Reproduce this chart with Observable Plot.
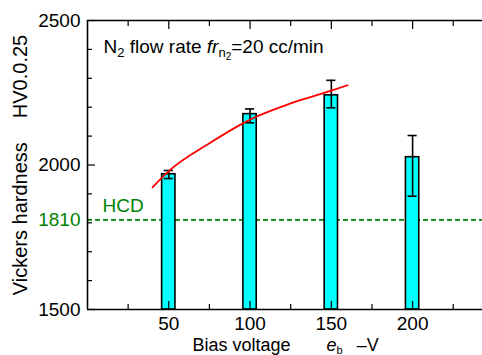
<!DOCTYPE html>
<html><head><meta charset="utf-8">
<script src="https://cdn.jsdelivr.net/npm/d3@7"></script>
<script src="https://cdn.jsdelivr.net/npm/@observablehq/plot@0.6"></script>
<style>
html,body{margin:0;padding:0;background:#fff;}
</style>
</head><body><div id="chart"></div>
<script>
// ---- data ----
const bias = [50, 100, 150, 200];
const hardness = [1968, 2176, 2241, 2027];
const errLow = [1953, 2146, 2198, 1892];
const errHigh = [1981, 2194, 2293, 2102];
const fitBias = [40, 50, 75, 100, 125, 150, 160];
const fitHardness = [1923, 1979, 2075, 2157, 2213, 2257, 2276];
const hcdValue = [1810];
const yDomain = [1500, 2500];
const xDomain = [0, 243];
const yTickLabels = [1500, 2000, 2500];
const yMinorTicks = [1600, 1700, 1800, 1900, 2100, 2200, 2300, 2400];
const xTickLabels = [50, 100, 150, 200];
const xMinorTicks = [25, 75, 125, 175, 225];
const noteText = "N2 flow rate frn2=20 cc/min";
const xTitle = "Bias voltage eb –V";
const yTitle = "Vickers hardness HV0.0.25";
const hcdLabel = "HCD";

const bars = bias.map((b, i) => ({bias: b, hv: hardness[i], lo: errLow[i], hi: errHigh[i]}));
const fit = fitBias.map((b, i) => ({bias: b, hv: fitHardness[i]}));

const barHalf = 4.1, capHalf = 2.8;
const font = '"Liberation Sans", Arial, sans-serif';
const green = "#008000";
const fmt = d => String(d);

const plot = Plot.plot({
  width: 482, height: 355,
  marginLeft: 87, marginRight: 0, marginTop: 20, marginBottom: 46,
  style: {fontFamily: font, fontSize: "19px", background: "#fff", color: "#000", overflow: "hidden"},
  x: {domain: xDomain, label: null},
  y: {domain: yDomain, label: null},
  marks: [
    Plot.ruleY(hcdValue, {stroke: green, strokeWidth: 1.6, strokeDasharray: "5,3"}),
    Plot.rectY(bars, {x1: d => d.bias - barHalf, x2: d => d.bias + barHalf, y1: () => yDomain[0], y2: "hv", fill: "#00ffff", stroke: "#000", strokeWidth: 1.6}),
    Plot.ruleX(bars, {x: "bias", y1: "lo", y2: "hi", stroke: "#000", strokeWidth: 1.6}),
    Plot.ruleY(bars, {y: "lo", x1: d => d.bias - capHalf, x2: d => d.bias + capHalf, stroke: "#000", strokeWidth: 1.6}),
    Plot.ruleY(bars, {y: "hi", x1: d => d.bias - capHalf, x2: d => d.bias + capHalf, stroke: "#000", strokeWidth: 1.6}),
    Plot.line(fit, {x: "bias", y: "hv", stroke: "#ff0000", strokeWidth: 1.8, curve: "monotone-x"}),
    Plot.ruleY(yDomain, {stroke: "#000", strokeWidth: 1.6}),
    Plot.ruleX([xDomain[0]], {stroke: "#000", strokeWidth: 1.6}),
    Plot.axisY(yMinorTicks, {tickSize: -5, text: null, label: null, strokeWidth: 1.2}),
    Plot.axisY(yTickLabels, {tickSize: -8, text: null, label: null, strokeWidth: 1.2}),
    Plot.axisY(yTickLabels, {tickSize: 0, tickPadding: 7, label: null, fontSize: 19, tickFormat: fmt}),
    Plot.axisY(hcdValue, {tickSize: 0, tickPadding: 7, label: null, color: green, fontSize: 19, tickFormat: fmt}),
    Plot.axisX(xMinorTicks, {anchor: "bottom", tickSize: -5, text: null, label: null, strokeWidth: 1.2}),
    Plot.axisX(xTickLabels, {anchor: "bottom", tickSize: -8, text: null, label: null, strokeWidth: 1.2}),
    Plot.axisX(xMinorTicks, {anchor: "top", tickSize: -5, text: null, label: null, strokeWidth: 1.2}),
    Plot.axisX(xTickLabels, {anchor: "top", tickSize: -8, text: null, label: null, strokeWidth: 1.2}),
    Plot.axisX(xTickLabels, {anchor: "bottom", tickSize: 0, tickPadding: 7, label: null, fontSize: 19, tickFormat: fmt}),
    Plot.text(hcdValue, {y: d => d, frameAnchor: "left", text: () => hcdLabel, dx: 15, dy: -8, lineAnchor: "bottom", textAnchor: "start", fill: green, fontSize: 19}),
    Plot.text([noteText], {frameAnchor: "top-left", dx: 16, dy: 32, lineAnchor: "bottom", textAnchor: "start", fontSize: 19}),
    Plot.text([xTitle], {frameAnchor: "bottom-left", dx: 105, dy: 41, lineAnchor: "bottom", textAnchor: "start", fontSize: 18}),
    Plot.text([yTitle], {frameAnchor: "left", dx: -67, rotate: -90, lineAnchor: "middle", textAnchor: "middle", fontSize: 20})
  ]
});
document.getElementById("chart").append(plot);

// rich text (subscripts / italics) for the annotations
function rich(str, parts) {
  const t = d3.select(plot).selectAll("text").filter(function() { return this.textContent === str; });
  t.text(null);
  for (const p of parts) {
    const s = t.append("tspan").text(p.t);
    if (p.dx != null) s.attr("dx", p.dx);
    if (p.dy != null) s.attr("dy", p.dy);
    if (p.fs) s.attr("font-size", p.fs);
    if (p.it) s.attr("font-style", "italic");
  }
}
rich(noteText, [
  {t: "N"}, {t: "2", fs: 13, dy: 4}, {t: " flow rate ", dy: -4},
  {t: "fr", it: true}, {t: "n", fs: 13, dy: 4}, {t: "2", fs: 10, dy: 3}, {t: "=20 cc/min", dy: -7}
]);
rich(xTitle, [
  {t: "Bias voltage"}, {t: "e", it: true, dx: 36}, {t: "b", fs: 11, dy: 3}, {t: "–V", dx: 14, dy: -3}
]);
rich(yTitle, [
  {t: "Vickers hardness"}, {t: "HV0.0.25", dx: 24}
]);
</script>
</body></html>
